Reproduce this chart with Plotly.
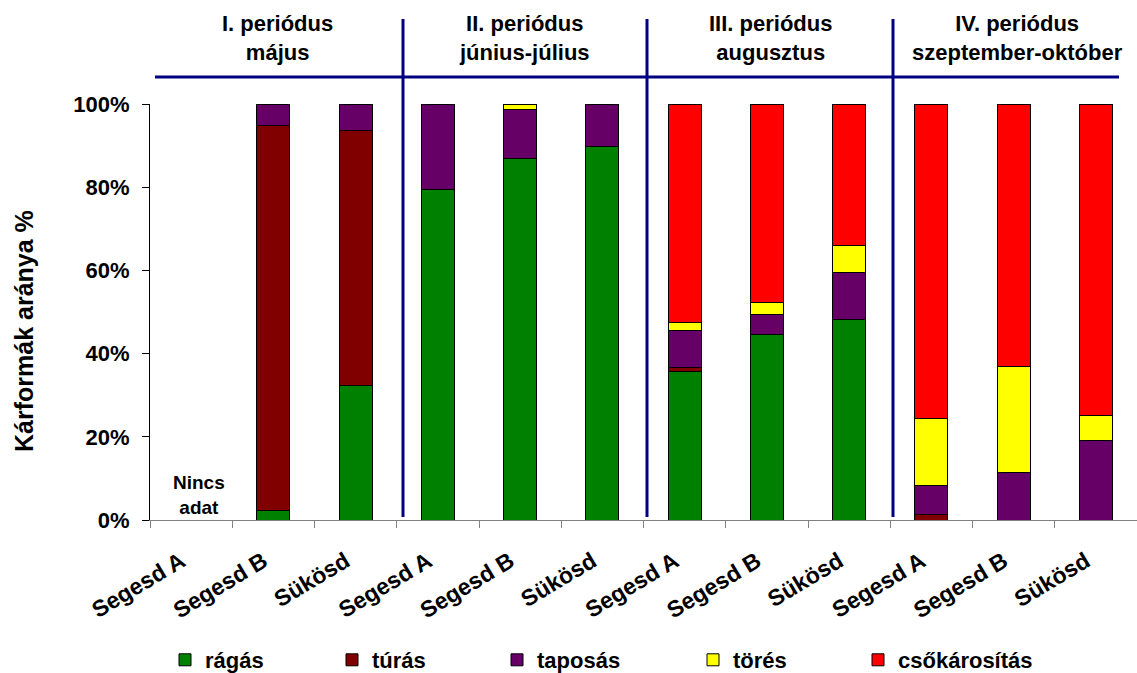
import plotly.graph_objects as go

categories = ["Segesd A", "Segesd B", "Sükösd"] * 4
periods = ["I. periódus<br>május", "II. periódus<br>június-július",
           "III. periódus<br>augusztus", "IV. periódus<br>szeptember-október"]
series_names = ["rágás", "túrás", "taposás", "törés", "csőkárosítás"]

ragas = [0, 2.4, 32.4, 79.5, 86.9, 89.7, 35.8, 44.5, 48.2, 0, 0, 0]
turas = [0, 92.4, 61.2, 0, 0, 0, 0.8, 0, 0, 1.3, 0, 0]
taposas = [0, 5.2, 6.4, 20.5, 11.8, 10.3, 8.9, 4.9, 11.3, 6.9, 11.5, 19.2]
tores = [0, 0, 0, 0, 1.3, 0, 1.9, 2.9, 6.4, 16.3, 25.5, 5.9]
csokarositas = [0, 0, 0, 0, 0, 0, 52.6, 47.7, 34.1, 75.5, 63.0, 74.9]

series_values = [ragas, turas, taposas, tores, csokarositas]
colors = ["#008000", "#800000", "#660066", "#FFFF00", "#FF0000"]

FONT = "Arial, 'Liberation Sans', sans-serif"

x = list(range(len(categories)))

# plot area: x 150..1137, y 104..520
W, H = 1137, 673
L, R, T, B = 150, 0, 104, 153
pw = W - L - R
ph = H - T - B

def px_x(p):
    return (p - L) / pw

def px_y(p):
    return (H - B - p) / ph

fig = go.Figure()
legend_text_x = [201, 368, 533, 729, 894]
legend_ids = ["legend", "legend2", "legend3", "legend4", "legend5"]
for name, vals, col, lid in zip(series_names, series_values, colors, legend_ids):
    fig.add_trace(go.Bar(
        x=x, y=vals, name=name, width=0.4,
        marker=dict(color=col, line=dict(color="black", width=1)),
        legend=lid,
    ))

layout_legends = {}
for lid, tx in zip(legend_ids, legend_text_x):
    layout_legends[lid] = dict(
        x=px_x(tx - 36), y=px_y(660), xanchor="left", yanchor="middle",
        orientation="h", bgcolor="rgba(0,0,0,0)", borderwidth=0,
        font=dict(family=FONT, size=22, color="black", weight="bold"),
    )

fig.update_layout(
    barmode="stack",
    width=W, height=H,
    margin=dict(l=L, r=R, t=T, b=B, pad=0, autoexpand=False),
    paper_bgcolor="white", plot_bgcolor="white",
    font=dict(family=FONT, color="black"),
    showlegend=True,
    **layout_legends,
)

fig.update_xaxes(
    range=[-0.5, 11.5],
    tickmode="array", tickvals=x, ticktext=categories,
    tickangle=-31, ticks="",
    tickfont=dict(family=FONT, size=23, color="black", weight="bold"),
    ticklabelstandoff=18, ticklabelshift=-10,
    showline=True, linecolor="#808080", linewidth=1,
    showgrid=False, zeroline=False, automargin=False,
    minor=dict(tick0=-0.5, dtick=1, ticks="outside", ticklen=7,
               tickcolor="#808080", tickwidth=1, showgrid=False),
)
fig.update_yaxes(
    range=[0, 100], tickmode="linear", tick0=0, dtick=20, ticksuffix="%",
    ticks="outside", ticklen=7, tickcolor="black", tickwidth=1,
    tickfont=dict(family=FONT, size=22, color="black", weight="bold"),
    ticklabelstandoff=8,
    showline=True, linecolor="black", linewidth=1,
    showgrid=False, zeroline=False, automargin=False,
)

# y-axis title
fig.add_annotation(
    text="Kárformák aránya %", textangle=-90,
    xref="paper", yref="paper", x=px_x(24), y=px_y(331),
    xanchor="center", yanchor="middle", showarrow=False,
    font=dict(family=FONT, size=25, color="black", weight="bold"),
)

# period headers
for i, ptxt in enumerate(periods):
    fig.add_annotation(
        text=ptxt, xref="x", yref="paper", x=3 * i + 1, y=px_y(38.5),
        xanchor="center", yanchor="middle", showarrow=False, xshift=4,
        font=dict(family=FONT, size=22, color="black", weight="bold"),
    )

# "Nincs adat"
fig.add_annotation(
    text="Nincs<br>adat", xref="x", yref="y", x=0, y=6, xshift=8,
    xanchor="center", yanchor="middle", showarrow=False,
    font=dict(family=FONT, size=19, color="black", weight="bold"),
)

# blue separator lines
NAVY = "#000080"
fig.add_shape(type="line", xref="paper", yref="paper",
              x0=px_x(155), x1=px_x(1119), y0=px_y(77), y1=px_y(77),
              line=dict(color=NAVY, width=3))
for xb in [403, 647, 893]:
    fig.add_shape(type="line", xref="paper", yref="paper",
                  x0=px_x(xb), x1=px_x(xb), y0=px_y(517), y1=px_y(19),
                  line=dict(color=NAVY, width=3))

fig.write_html(
    "out.html",
    config={"displayModeBar": False},
    post_script="document.body.style.margin='0px';document.body.style.overflow='hidden';",
)
